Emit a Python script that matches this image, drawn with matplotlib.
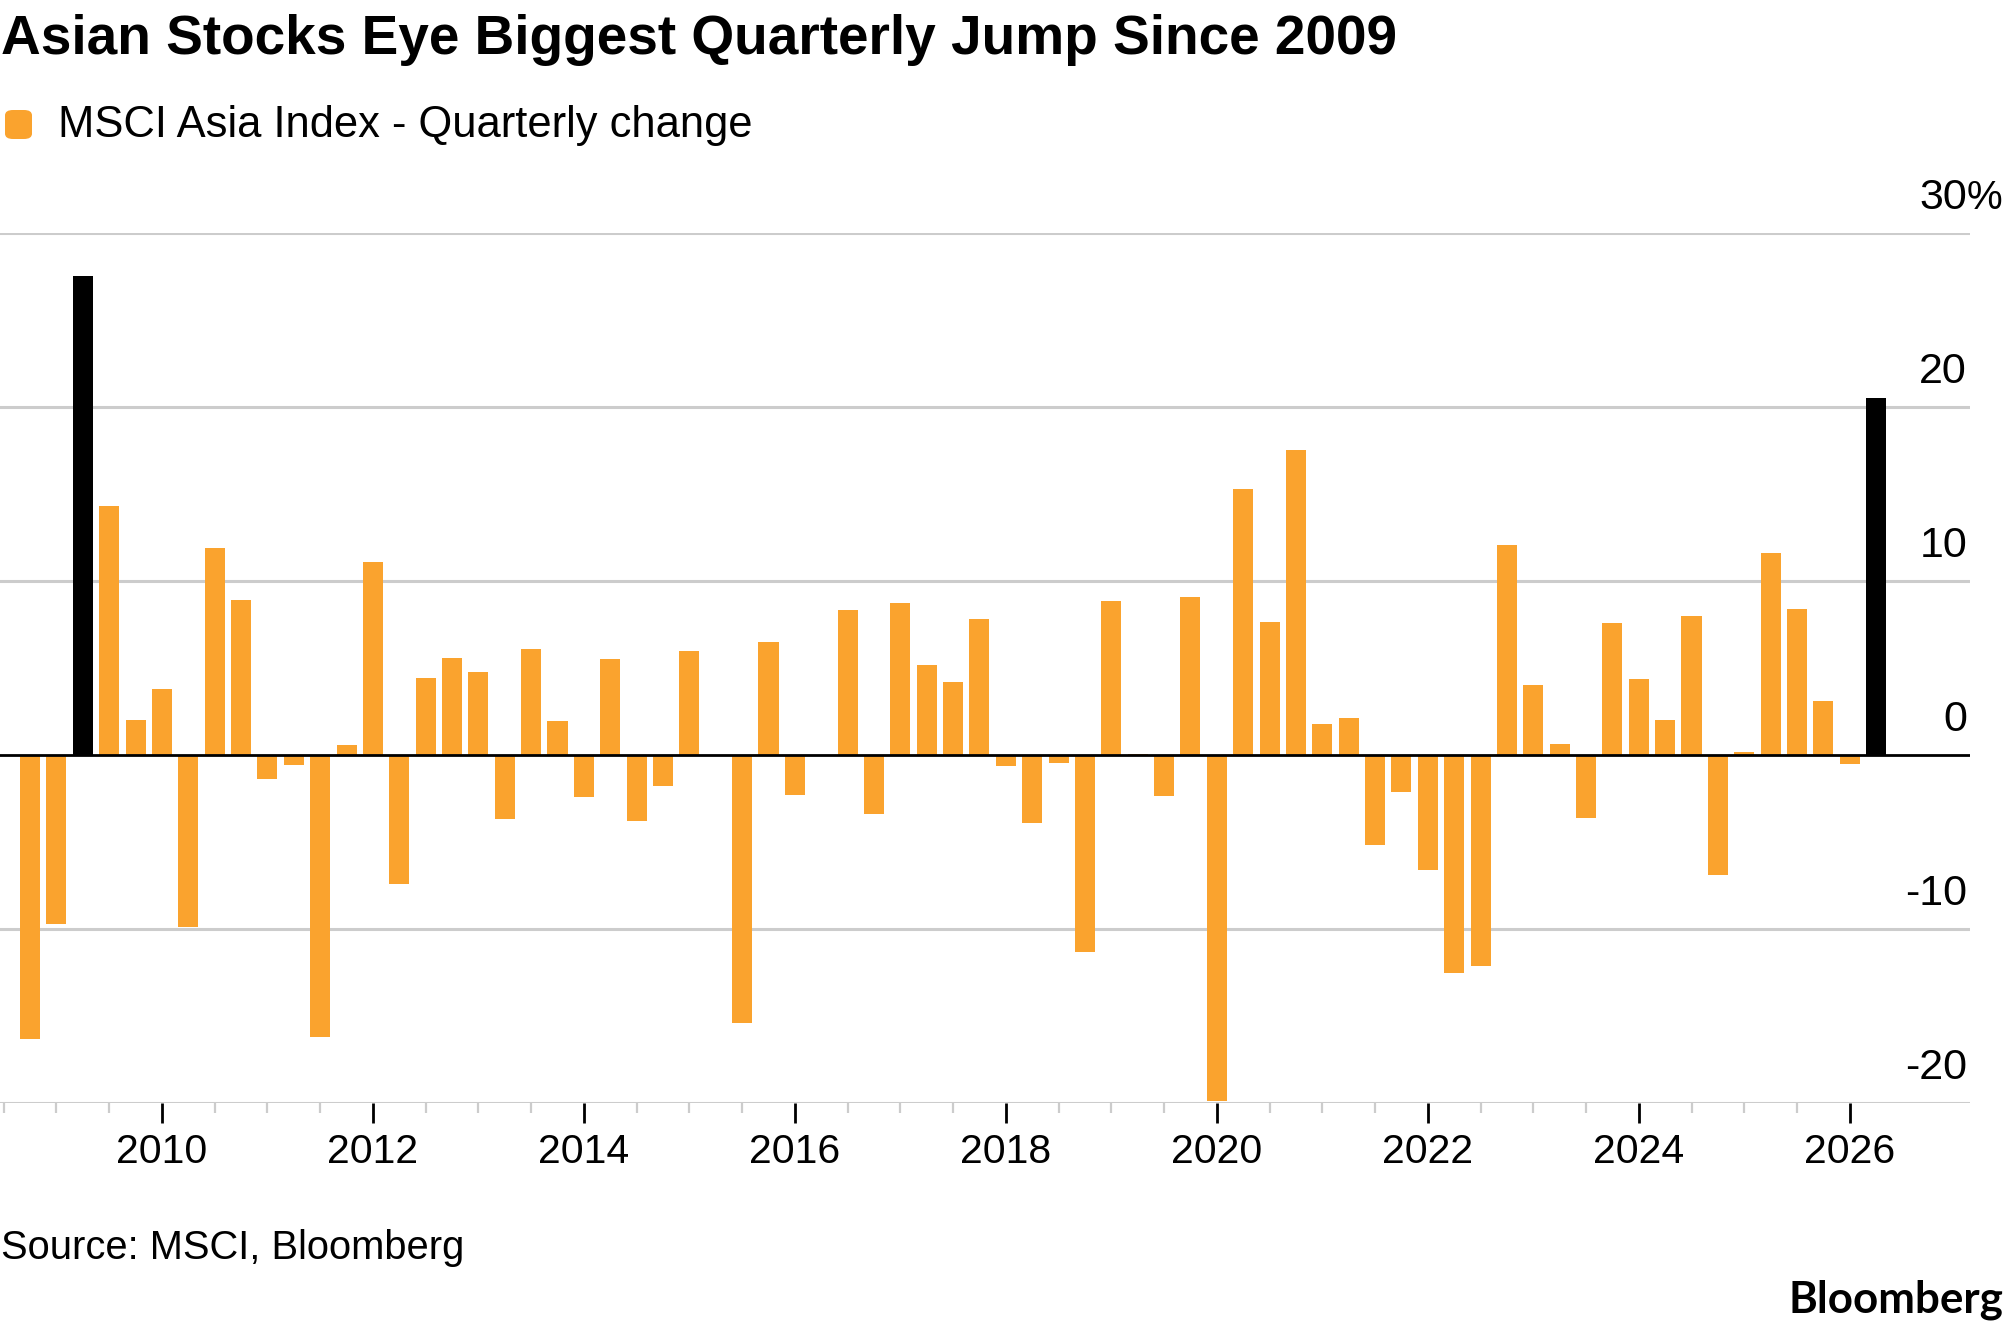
import numpy as np
import pandas as pd
import matplotlib
matplotlib.use('Agg')
import matplotlib.pyplot as plt
from matplotlib.patches import FancyBboxPatch

# quarterly % change of MSCI Asia index
quarters = pd.period_range('2008Q4', '2026Q2', freq='Q')
changes = [
    -16.3,
    -9.7, 27.5, 14.3, 2.0,
    3.8, -9.9, 11.9, 8.9,
    -1.4, -0.6, -16.2, 0.6,
    11.1, -7.4, 4.4, 5.6,
    4.75, -3.7, 6.1, 1.95,
    -2.4, 5.5, -3.8, -1.8,
    6.0, 0.0, -15.4, 6.5,
    -2.3, 0.0, 8.35, -3.4,
    8.75, 5.15, 4.2, 7.8,
    -0.65, -3.9, -0.45, -11.3,
    8.85, 0.07, -2.35, 9.1,
    -19.9, 15.3, 7.65, 17.5,
    1.8, 2.1, -5.2, -2.1,
    -6.6, -12.5, -12.1, 12.05,
    4.0, 0.65, -3.6, 7.6,
    4.35, 2.0, 8.0, -6.9,
    0.15, 11.6, 8.4, 3.1,
    -0.5, 20.5,
]
highlight = ['2009Q2', '2026Q2']
yticks = [-20, -10, 0, 10, 20, 30]
year_labels = [2010, 2012, 2014, 2016, 2018, 2020, 2022, 2024, 2026]

title = 'Asian Stocks Eye Biggest Quarterly Jump Since 2009'
legend_label = 'MSCI Asia Index - Quarterly change'
source = 'Source: MSCI, Bloomberg'

ORANGE = '#FAA32E'
GRID = '#CCCCCC'
W, H = 2005, 1329

plt.rcParams['font.family'] = ['Liberation Sans', 'DejaVu Sans']

fig = plt.figure(figsize=(W / 100, H / 100), dpi=100)
ax = fig.add_axes([0, 1 - 1103 / H, 1970 / W, (1103 - 233) / H])

x = quarters.year + (quarters.quarter - 1) / 4.0
colors = ['black' if str(q) in highlight else ORANGE for q in quarters]
ax.bar(x, changes, width=0.19, color=colors, zorder=3)

for v in yticks:
    if v == 0:
        ax.axhline(v, color='black', lw=2.0, zorder=4)
    else:
        ax.axhline(v, color=GRID, lw=2.2, zorder=1)

ax.set_xlim(2008.465, 2027.14)
ax.set_ylim(-20, 30)
for s in ax.spines.values():
    s.set_visible(False)
ax.set_yticks([])

ax.set_xticks(year_labels)
ax.set_xticklabels([str(y) for y in year_labels], fontsize=29.5)
ax.set_xticks(np.arange(2008.5, 2026.01, 0.5), minor=True)
ax.tick_params(axis='x', which='major', length=14.5, width=2.0, color='black', pad=7)
ax.tick_params(axis='x', which='minor', length=7.5, width=1.6, color=GRID)

# y labels sit above their gridlines, right side
for v in yticks:
    ax.annotate(str(v), xy=(0.9985, v), xycoords=('axes fraction', 'data'),
                xytext=(0, 25), textcoords='offset points',
                ha='right', va='center', fontsize=31)
    if v == 30:
        ax.annotate('%', xy=(0.9985, v), xycoords=('axes fraction', 'data'),
                    xytext=(0, 25), textcoords='offset points',
                    ha='left', va='center', fontsize=29)

renderer = fig.canvas.get_renderer()


def fit(t, width_px):
    w = t.get_window_extent(renderer).width
    t.set_fontsize(t.get_fontsize() * width_px / w)


t_title = fig.text(1 / W, 1 - 54 / H, title, fontsize=40, fontweight='bold',
                   ha='left', va='baseline')
fit(t_title, 1396)

fig.patches.append(FancyBboxPatch((5 / W, 1 - 139 / H), 27 / W, 29 / H,
                                  boxstyle='round,pad=0,rounding_size=0.004',
                                  transform=fig.transFigure, fc=ORANGE, ec='none'))
t_leg = fig.text(58 / W, 1 - 137 / H, legend_label, fontsize=31,
                 ha='left', va='baseline')
fit(t_leg, 694)

t_src = fig.text(1 / W, 1 - 1259 / H, source, fontsize=29, ha='left', va='baseline')
fit(t_src, 463)

t_bb = fig.text(2003 / W, 1 - 1313 / H, 'Bloomberg', fontsize=30, fontweight='bold',
                ha='right', va='baseline', family=['Lato', 'DejaVu Sans'])
fit(t_bb, 215)

fig.savefig('out.png', dpi=100, facecolor='white')
